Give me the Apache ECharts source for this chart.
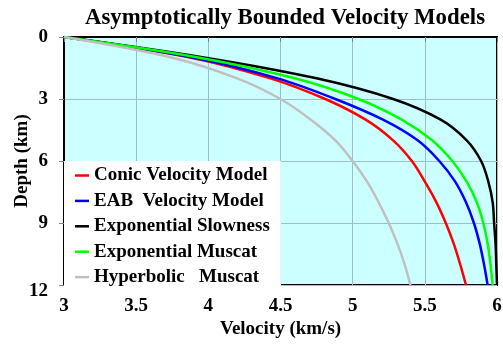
<!DOCTYPE html>
<html>
<head>
<meta charset="utf-8">
<script src="https://cdn.jsdelivr.net/npm/echarts@6/dist/echarts.min.js"></script>
<style>
  html, body { margin: 0; padding: 0; background: #ffffff; }
  #chart { width: 503px; height: 344px; }
</style>
</head>
<body>
<div id="chart"></div>
<script>
// Depth samples (km) shared by every model curve
const depths = [0, 1, 2, 3, 4, 5, 6, 7, 8, 9, 10, 11, 12];

// Velocity (km/s) of each model at the depths above
const conicVelocity       = [3, 3.88, 4.43, 4.81, 5.09, 5.28, 5.41, 5.50, 5.58, 5.645, 5.70, 5.745, 5.785];
const eabVelocity         = [3, 3.90, 4.48, 4.88, 5.21, 5.45, 5.60, 5.71, 5.785, 5.84, 5.88, 5.91, 5.935];
const exponentialSlowness = [3, 3.98, 4.75, 5.28, 5.61, 5.79, 5.89, 5.94, 5.97, 5.98, 5.99, 5.995, 6.0];
const exponentialMuscat   = [3, 3.94, 4.60, 5.04, 5.34, 5.55, 5.69, 5.79, 5.86, 5.905, 5.935, 5.955, 5.97];
const hyperbolicMuscat    = [3, 3.75, 4.20, 4.50, 4.71, 4.88, 5.00, 5.10, 5.18, 5.25, 5.31, 5.36, 5.40];

const seriesNames = [
  'Conic Velocity Model',
  'EAB  Velocity Model',
  'Exponential Slowness',
  'Exponential Muscat',
  'Hyperbolic   Muscat'
];
const seriesValues = [conicVelocity, eabVelocity, exponentialSlowness, exponentialMuscat, hyperbolicMuscat];
const seriesColors = ['#ff0000', '#0000ff', '#000000', '#00ff00', '#c0c0c0'];

const xTicks = [3, 3.5, 4, 4.5, 5, 5.5, 6];
const yTicks = [0, 3, 6, 9, 12];

const FONT = '"Liberation Serif", "Times New Roman", serif';
const labelFont = { fontFamily: FONT, fontSize: 19, fontWeight: 'bold', color: '#000' };

const chart = echarts.init(document.getElementById('chart'), null, { renderer: 'canvas' });

const series = seriesNames.map((name, i) => ({
  name: name,
  type: 'line',
  data: seriesValues[i].map((v, j) => [v, depths[j]]),
  smooth: 0.35,
  symbol: 'none',
  lineStyle: { color: seriesColors[i], width: 2.5 },
  itemStyle: { color: seriesColors[i] },
  animation: false
}));

chart.setOption({
  animation: false,
  backgroundColor: '#ffffff',
  title: {
    text: 'Asymptotically Bounded Velocity Models',
    left: 280,
    top: 2,
    textAlign: 'center',
    textStyle: { fontFamily: FONT, fontSize: 22.8, fontWeight: 'bold', color: '#000' }
  },
  grid: {
    left: 64, right: 6, top: 37, bottom: 59,
    containLabel: false,
    outerBoundsMode: 'none',
    show: true,
    backgroundColor: '#ccffff',
    borderColor: '#000',
    borderWidth: 2
  },
  legend: {
    orient: 'vertical',
    left: 64,
    top: 161,
    backgroundColor: '#ffffff',
    padding: [5, 11, 0, 11],
    icon: 'rect',
    itemWidth: 14,
    itemHeight: 2.5,
    itemGap: 6.4,
    data: seriesNames,
    textStyle: labelFont,
    z: 10
  },
  xAxis: {
    type: 'value',
    min: 3, max: 6, interval: 0.5,
    name: 'Velocity (km/s)',
    nameLocation: 'middle',
    nameGap: 35,
    nameMoveOverlap: false,
    nameTextStyle: labelFont,
    axisLine: { show: true, lineStyle: { color: '#000', width: 2 } },
    axisTick: { show: true, inside: false, length: 5, lineStyle: { color: '#808080' } },
    axisLabel: Object.assign({
      margin: 12,
      formatter: v => (xTicks.indexOf(v) >= 0 ? String(v) : '')
    }, labelFont),
    splitLine: { show: true, lineStyle: { color: '#9cbfc2', width: 1 } }
  },
  yAxis: {
    type: 'value',
    inverse: true,
    min: 0, max: 12, interval: 3,
    name: 'Depth (km)',
    nameLocation: 'middle',
    nameGap: 32,
    nameMoveOverlap: false,
    nameTextStyle: labelFont,
    axisLine: { show: true, lineStyle: { color: '#000', width: 2 } },
    axisTick: { show: true, inside: false, length: 5, lineStyle: { color: '#808080' } },
    axisLabel: Object.assign({
      margin: 16,
      formatter: v => {
        if (yTicks.indexOf(v) < 0) return '';
        // the bottom label sits a little below its tick
        return v === 12 ? '{low|' + v + '}' : String(v);
      },
      rich: { low: Object.assign({ padding: [12, 0, 0, 0] }, labelFont) }
    }, labelFont),
    splitLine: { show: true, lineStyle: { color: '#9cbfc2', width: 1 } }
  },
  series: series
});
</script>
</body>
</html>
